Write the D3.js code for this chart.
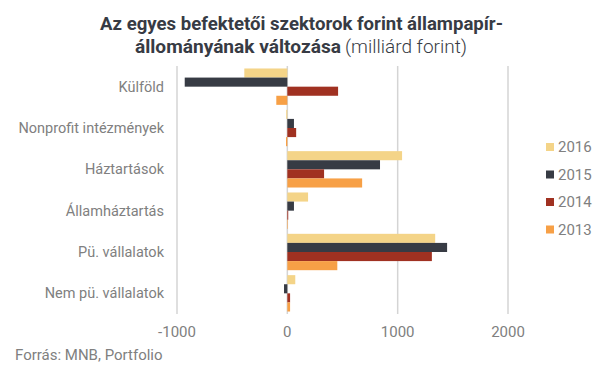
<!DOCTYPE html>
<html>
<head>
<meta charset="utf-8">
<script src="https://cdn.jsdelivr.net/npm/d3@7"></script>
<style>
  body { margin: 0; background: #fff; }
  svg text { font-family: Roboto, "Open Sans", sans-serif; }
</style>
</head>
<body>
<div id="chart"></div>
<script>
// categories, top to bottom
var categories = ['Külföld', 'Nonprofit intézmények', 'Háztartások', 'Államháztartás', 'Pü. vállalatok', 'Nem pü. vállalatok'];
var years = ['2016', '2015', '2014', '2013'];
var colors = ['#f4d488', '#373b44', '#a03121', '#f7a046'];

// milliárd forint, per category
var v2016 = [-390, -10, 1040, 188, 1340, 72];
var v2015 = [-930, 60, 840, 60, 1448, -30];
var v2014 = [460, 80, 333, 8, 1310, 25];
var v2013 = [-100, -12, 678, 5, 453, 25];
var tickValues = [-1000, 0, 1000, 2000];

var series = [v2016, v2015, v2014, v2013];

var width = 605, height = 378;
var margin = { top: 66, left: 177, right: 97, bottom: 64 };

var svg = d3.select('#chart').append('svg')
    .attr('width', width)
    .attr('height', height);

// title (the original uses a condensed face, so squeeze to its width)
svg.append('text')
    .attr('x', 100).attr('y', 30)
    .attr('fill', '#373b44')
    .attr('font-weight', 'bold').attr('font-size', 18.5)
    .attr('textLength', 403).attr('lengthAdjust', 'spacingAndGlyphs')
    .text('Az egyes befektetői szektorok forint állampapír-');
svg.append('text')
    .attr('x', 135).attr('y', 53)
    .attr('fill', '#373b44')
    .attr('font-weight', 'bold').attr('font-size', 18.5)
    .attr('textLength', 206).attr('lengthAdjust', 'spacingAndGlyphs')
    .text('állományának változása');
svg.append('text')
    .attr('x', 345).attr('y', 53)
    .attr('fill', '#373b44')
    .attr('font-weight', 300).attr('font-size', 18.5)
    .attr('textLength', 122).attr('lengthAdjust', 'spacingAndGlyphs')
    .text('(milliárd forint)');

var x = d3.scaleLinear()
    .domain([-1000, 2000])
    .range([margin.left, width - margin.right]);

var y = d3.scaleBand()
    .domain(categories)
    .range([margin.top, height - margin.bottom])
    .paddingInner(0.12)
    .paddingOuter(0.06);

var yInner = d3.scaleBand()
    .domain(years)
    .range([0, y.bandwidth()]);

// grid
svg.append('g').selectAll('line')
    .data(tickValues)
    .enter().append('line')
    .attr('x1', function (d) { return x(d); })
    .attr('x2', function (d) { return x(d); })
    .attr('y1', margin.top)
    .attr('y2', height - margin.bottom)
    .attr('stroke', '#d4d4d4')
    .attr('stroke-width', 1.5);

// bars
var rows = [];
categories.forEach(function (c, i) {
  years.forEach(function (yr, j) {
    rows.push({ cat: c, year: yr, value: series[j][i], color: colors[j] });
  });
});

svg.append('g').selectAll('rect')
    .data(rows)
    .enter().append('rect')
    .attr('x', function (d) { return x(Math.min(0, d.value)); })
    .attr('width', function (d) { return Math.abs(x(d.value) - x(0)); })
    .attr('y', function (d) { return y(d.cat) + yInner(d.year); })
    .attr('height', yInner.bandwidth())
    .attr('fill', function (d) { return d.color; });

// category labels
svg.append('g').selectAll('text')
    .data(categories)
    .enter().append('text')
    .attr('x', margin.left - 13)
    .attr('y', function (d) { return y(d) + y.bandwidth() / 2; })
    .attr('dy', '0.35em')
    .attr('text-anchor', 'end')
    .attr('font-size', 14.5)
    .attr('fill', '#808080')
    .text(function (d) { return d; });

// x axis labels
svg.append('g').selectAll('text')
    .data(tickValues)
    .enter().append('text')
    .attr('x', function (d) { return x(d); })
    .attr('y', 337)
    .attr('text-anchor', 'middle')
    .attr('font-size', 15)
    .attr('fill', '#808080')
    .text(function (d) { return d; });

// legend
var legend = svg.append('g').selectAll('g')
    .data(years)
    .enter().append('g')
    .attr('transform', function (d, i) { return 'translate(546,' + (147 + i * 27.5) + ')'; });
legend.append('rect')
    .attr('x', 0).attr('y', -4)
    .attr('width', 8).attr('height', 8)
    .attr('fill', function (d, i) { return colors[i]; });
legend.append('text')
    .attr('x', 12).attr('dy', '0.35em')
    .attr('font-size', 15)
    .attr('fill', '#808080')
    .text(function (d) { return d; });

// source
svg.append('text')
    .attr('x', 15).attr('y', 360)
    .attr('font-size', 15)
    .attr('fill', '#808080')
    .text('Forrás: MNB, Portfolio');
</script>
</body>
</html>
